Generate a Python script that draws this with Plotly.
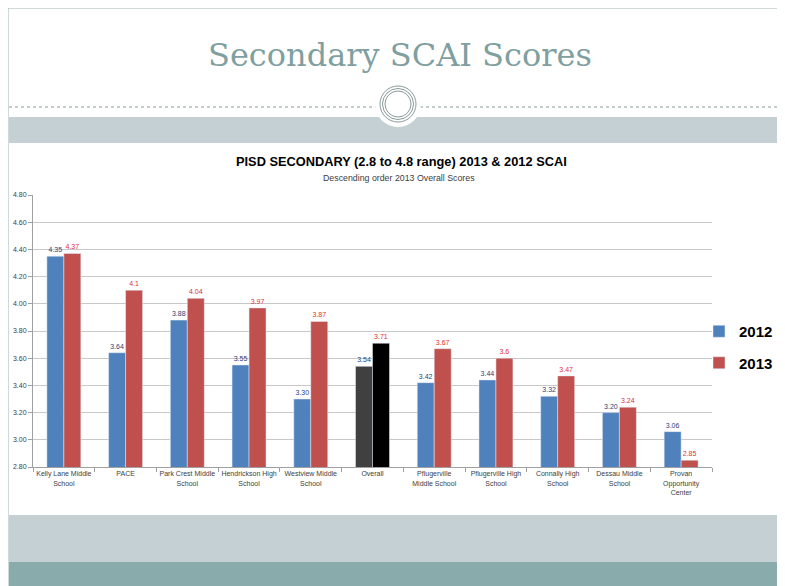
import plotly.graph_objects as go

# data
schools = ["Kelly Lane Middle<br>School", "PACE", "Park Crest Middle<br>School",
           "Hendrickson High<br>School", "Westview Middle<br>School", "Overall",
           "Pflugerville<br>Middle School", "Pflugerville High<br>School",
           "Connally High<br>School", "Dessau Middle<br>School",
           "Provan<br>Opportunity<br>Center"]
scores_2012 = [4.35, 3.64, 3.88, 3.55, 3.30, 3.54, 3.42, 3.44, 3.32, 3.20, 3.06]
scores_2013 = [4.37, 4.10, 4.04, 3.97, 3.87, 3.71, 3.67, 3.60, 3.47, 3.24, 2.85]
labels_2012 = ["4.35", "3.64", "3.88", "3.55", "3.30", "3.54", "3.42", "3.44", "3.32", "3.20", "3.06"]
labels_2013 = ["4.37", "4.1", "4.04", "3.97", "3.87", "3.71", "3.67", "3.6", "3.47", "3.24", "2.85"]
y_ticks = [2.8, 3.0, 3.2, 3.4, 3.6, 3.8, 4.0, 4.2, 4.4, 4.6, 4.8]

# the page body has an 8px margin, so the figure starts at (8, 8) on the page
OFF = 8
W, H = 777, 578
# plot area on the page: x 33..712, y 195..467
L, T = 33 - OFF, 195 - OFF
R = W - (712 - OFF)
B = H - (467 - OFF)
PW, PH = W - L - R, H - T - B


def px(x):
    return (x - OFF - L) / PW


def py(y):
    return (H - B - (y - OFF)) / PH


blue, red = "#4f81bd", "#c0504d"
col_2012 = [("#404040" if s == "Overall" else blue) for s in schools]
col_2013 = [("#000000" if s == "Overall" else red) for s in schools]

fig = go.Figure()
fig.add_trace(go.Bar(x=schools, y=scores_2012, name="2012", marker=dict(color=col_2012),
                     legendgroup="a", text=labels_2012, textposition="outside", cliponaxis=False,
                     textfont=dict(size=7, color="#1f3f7a")))
fig.add_trace(go.Bar(x=schools, y=scores_2013, name="2013", marker=dict(color=col_2013),
                     legendgroup="b", text=labels_2013, textposition="outside", cliponaxis=False,
                     textfont=dict(size=7, color="#e03030")))

grey = "#8a9a9a"
# slide border
fig.add_shape(type="line", xref="paper", yref="paper", x0=px(8), x1=px(786), y0=py(8), y1=py(8),
              line=dict(color="#9fb3b3", width=1))
fig.add_shape(type="line", xref="paper", yref="paper", x0=px(8), x1=px(8), y0=py(8), y1=py(586),
              line=dict(color="#9fb3b3", width=1))
# header band and footer bands
fig.add_shape(type="rect", xref="paper", yref="paper", x0=px(9), x1=px(786), y0=py(117), y1=py(143),
              fillcolor="#c5d0d5", line=dict(width=0))
fig.add_shape(type="rect", xref="paper", yref="paper", x0=px(9), x1=px(786), y0=py(515), y1=py(562),
              fillcolor="#c5d0d5", line=dict(width=0))
fig.add_shape(type="rect", xref="paper", yref="paper", x0=px(9), x1=px(786), y0=py(562), y1=py(587),
              fillcolor="#8aabab", line=dict(width=0))
# dashed rule
fig.add_shape(type="line", xref="paper", yref="paper", x0=px(9), x1=px(376), y0=py(107), y1=py(107),
              line=dict(color=grey, width=1, dash="dot"))
fig.add_shape(type="line", xref="paper", yref="paper", x0=px(420), x1=px(786), y0=py(107), y1=py(107),
              line=dict(color=grey, width=1, dash="dot"))
# circle ornament
fig.add_shape(type="circle", xref="paper", yref="paper", x0=px(375), x1=px(421), y0=py(81), y1=py(127),
              fillcolor="white", line=dict(width=0))
for r in [18, 15.5, 13]:
    fig.add_shape(type="circle", xref="paper", yref="paper", x0=px(398 - r), x1=px(398 + r),
                  y0=py(104 - r), y1=py(104 + r), line=dict(color=grey, width=1))

fig.add_annotation(text="Secondary SCAI Scores", x=px(400), y=py(55), xref="paper", yref="paper",
                   xanchor="center", yanchor="middle", showarrow=False,
                   font=dict(family="DejaVu Serif", size=32, color="#7f9fa0"))
fig.add_annotation(text="<b>PISD SECONDARY (2.8 to 4.8 range) 2013 &amp; 2012 SCAI</b>",
                   x=px(401), y=py(161), xref="paper", yref="paper",
                   xanchor="center", yanchor="middle", showarrow=False,
                   font=dict(family="Liberation Sans", size=12.8, color="#000000"))
fig.add_annotation(text="Descending order 2013 Overall Scores", x=px(399), y=py(178),
                   xref="paper", yref="paper", xanchor="center", yanchor="middle", showarrow=False,
                   font=dict(family="Liberation Sans", size=8.8, color="#404040"))

fig.update_layout(
    width=W, height=H,
    margin=dict(l=L, r=R, t=T, b=B, autoexpand=False),
    paper_bgcolor="white", plot_bgcolor="white",
    barmode="group", bargap=0.45, bargroupgap=0,
    font=dict(family="Liberation Sans", color="#404040"),
    legend=dict(x=px(699), y=py(315), xanchor="left", yanchor="top",
                font=dict(family="Liberation Sans", size=15, color="#000000", weight="bold"),
                tracegroupgap=9, traceorder="grouped", itemwidth=30, bgcolor="rgba(0,0,0,0)"),
    xaxis=dict(showline=True, linecolor="#a0a0a0", ticks="outside", tickson="boundaries",
               ticklen=4, tickcolor="#a0a0a0", tickfont=dict(size=7, color="#404040"),
               tickangle=0),
    yaxis=dict(range=[2.8, 4.8], tickvals=y_ticks, tickformat=".2f", showline=True,
               linecolor="#a0a0a0", ticks="outside", ticklen=4, tickcolor="#a0a0a0",
               gridcolor="#c8c8c8", tickfont=dict(size=7, color="#404040"), zeroline=False),
)

fig.write_html("out.html")
